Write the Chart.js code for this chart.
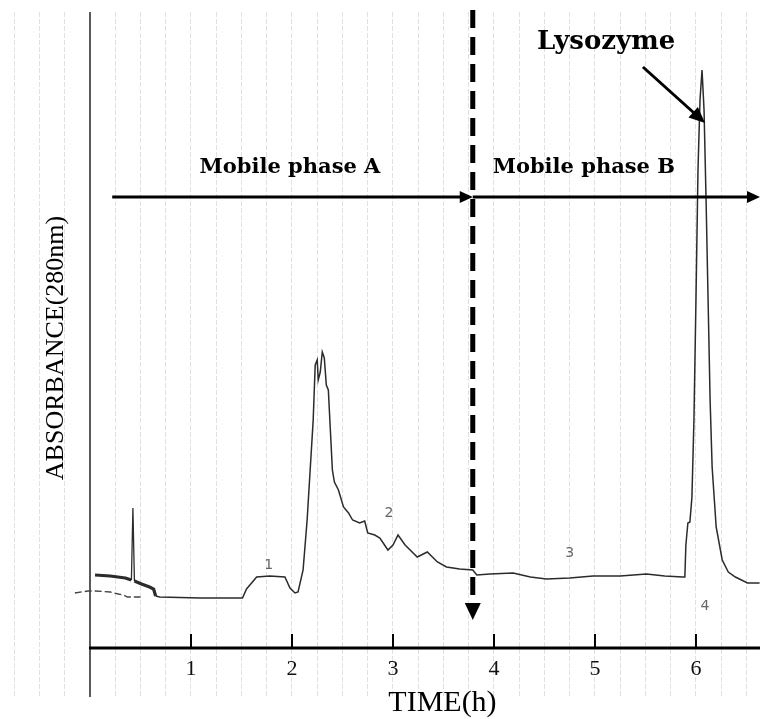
<!DOCTYPE html>
<html><head><meta charset="utf-8">
<script src="https://cdn.jsdelivr.net/npm/chart.js@4"></script>
<style>html,body{margin:0;padding:0;background:#fff}#wrap{width:760px;height:719px}</style>
</head><body><div id="wrap"><canvas id="c" width="760" height="719"></canvas></div>
<script>
// Chromatogram trace: time (h) and absorbance (arbitrary chart units, baseline ~50)
const traceTime = [0.05,0.20,0.35,0.41,0.425,0.44,0.51,0.59,0.63,0.65,0.69,1.09,1.51,1.55,1.60,1.65,1.78,1.93,1.98,2.03,2.06,2.11,2.15,2.18,2.21,2.23,2.25,2.26,2.28,2.30,2.32,2.34,2.36,2.38,2.40,2.42,2.46,2.51,2.56,2.60,2.67,2.72,2.75,2.82,2.87,2.95,3.00,3.05,3.12,3.24,3.34,3.44,3.53,3.66,3.79,3.83,3.96,4.19,4.36,4.52,4.75,4.98,5.25,5.51,5.69,5.87,5.89,5.90,5.92,5.94,5.96,5.98,6.00,6.02,6.04,6.06,6.08,6.10,6.12,6.14,6.16,6.20,6.26,6.32,6.39,6.51,6.63];
const traceAbs  = [73,72,70,68,140,67,64,61,59,52,51,50,50,59,65,71,72,71,60,55,56,78,128,178,228,283,288,268,276,296,290,263,258,218,178,166,158,141,135,128,125,127,115,113,110,98,103,113,103,91,96,86,81,79,78,73,74,75,71,69,70,72,72,74,72,71,71,103,125,126,151,228,348,478,548,578,538,448,348,248,181,121,88,76,71,65,65];
// Faint second pen trace at the start of the run
const lowTime = [-0.15,-0.02,0.05,0.20,0.28,0.33,0.37,0.50];
const lowAbs  = [55,57,57,56,54,53,51,51];
// Axis tick labels (h)
const tickLabels = ['1','2','3','4','5','6'];
// Mobile phase switch time (h)
const phaseSwitch = 3.79;
// Peak number notes written on the chart
const peakNotes = ['1','2','3','4'];
const peakNoteTime = [1.77,2.96,4.75,6.09];
const peakNoteAbs = [83,135,95,42];

const annot = {
  arrowAbs: 451, arrowStartA: 0.22,
  labelAbs: 480, labelA: 1.98, labelB: 4.89,
  lysoLabel: [5.11, 606], lysoArrowFrom: [5.475, 581], lysoArrowTo: [6.09, 525],
  dashTopAbs: 636, dashBottomAbs: 43, dashTipAbs: 28,
  xTitle: [3.49, -55], yTitle: [-0.33, 300]
};

function arrowHead(ctx, x1, y1, x2, y2, len, half) {
  const a = Math.atan2(y2 - y1, x2 - x1);
  ctx.beginPath();
  ctx.moveTo(x2, y2);
  ctx.lineTo(x2 - len*Math.cos(a) + half*Math.sin(a), y2 - len*Math.sin(a) - half*Math.cos(a));
  ctx.lineTo(x2 - len*Math.cos(a) - half*Math.sin(a), y2 - len*Math.sin(a) + half*Math.cos(a));
  ctx.closePath();
  ctx.fill();
}

const decor = {
  id: 'decor',
  afterDatasetsDraw(chart) {
    const ctx = chart.ctx, xs = chart.scales.x, ys = chart.scales.y, ca = chart.chartArea;
    const X = v => xs.getPixelForValue(v), Y = v => ys.getPixelForValue(v);
    ctx.save();
    ctx.fillStyle = '#000'; ctx.strokeStyle = '#000';
    // x axis line
    const y0 = Y(0);
    ctx.lineWidth = 3;
    ctx.beginPath(); ctx.moveTo(X(0) - 1, y0); ctx.lineTo(ca.right, y0); ctx.stroke();
    // integer tick marks (inside)
    ctx.lineWidth = 2;
    tickLabels.forEach(l => { const px = X(Number(l)); ctx.beginPath(); ctx.moveTo(px, y0); ctx.lineTo(px, y0 - 14); ctx.stroke(); });
    // phase arrows
    const ya = Y(annot.arrowAbs), xs0 = X(annot.arrowStartA), xm = X(phaseSwitch);
    ctx.lineWidth = 3;
    ctx.beginPath(); ctx.moveTo(xs0, ya); ctx.lineTo(xm - 6, ya); ctx.stroke();
    arrowHead(ctx, xs0, ya, xm, ya, 13, 6);
    ctx.beginPath(); ctx.moveTo(xm, ya); ctx.lineTo(ca.right - 6, ya); ctx.stroke();
    arrowHead(ctx, xm, ya, ca.right, ya, 13, 6);
    // vertical dashed switch line
    ctx.lineWidth = 5;
    ctx.setLineDash([18, 9]);
    ctx.beginPath(); ctx.moveTo(xm, Y(annot.dashTopAbs) - 2); ctx.lineTo(xm, Y(annot.dashBottomAbs)); ctx.stroke();
    ctx.setLineDash([]);
    arrowHead(ctx, xm, Y(annot.dashBottomAbs) - 5, xm, Y(annot.dashTipAbs), 17, 8);
    // lysozyme arrow
    ctx.lineWidth = 3;
    const ax1 = X(annot.lysoArrowFrom[0]), ay1 = Y(annot.lysoArrowFrom[1]);
    const ax2 = X(annot.lysoArrowTo[0]), ay2 = Y(annot.lysoArrowTo[1]);
    ctx.beginPath(); ctx.moveTo(ax1, ay1); ctx.lineTo(ax2 - 6, ay2 - 5.5); ctx.stroke();
    arrowHead(ctx, ax1, ay1, ax2, ay2, 16, 7);
    // texts
    ctx.textAlign = 'center'; ctx.textBaseline = 'middle';
    ctx.font = 'bold 21px "DejaVu Serif"';
    ctx.fillText('Mobile phase A', X(annot.labelA), Y(annot.labelAbs));
    ctx.fillText('Mobile phase B', X(annot.labelB), Y(annot.labelAbs));
    ctx.font = 'bold 26px "DejaVu Serif"';
    ctx.fillText('Lysozyme', X(annot.lysoLabel[0]), Y(annot.lysoLabel[1]));
    ctx.font = '30px "Liberation Serif"';
    ctx.fillText('TIME(h)', X(annot.xTitle[0]), Y(annot.xTitle[1]));
    ctx.save();
    ctx.translate(X(annot.yTitle[0]), Y(annot.yTitle[1]));
    ctx.rotate(-Math.PI/2);
    ctx.font = '26px "Liberation Serif"';
    ctx.fillText('ABSORBANCE(280nm)', 0, 0);
    ctx.restore();
    ctx.fillStyle = '#666';
    ctx.font = '14px "DejaVu Sans"';
    peakNotes.forEach((n, i) => ctx.fillText(n, X(peakNoteTime[i]), Y(peakNoteAbs[i])));
    ctx.restore();
  }
};

new Chart(document.getElementById('c'), {
  type: 'line',
  data: {
    datasets: [
      { data: traceTime.map((t, i) => ({x: t, y: traceAbs[i]})), borderColor: '#2b2b2b', borderWidth: 1.5,
        pointRadius: 0, tension: 0, fill: false,
        segment: { borderWidth: c => {
          const x0 = c.p0.parsed.x;
          if (x0 >= 0.40 && x0 < 0.44) return 1.3;
          return x0 < 0.64 ? 3.2 : 1.5;
        } } },
      { data: lowTime.map((t, i) => ({x: t, y: lowAbs[i]})), borderColor: '#444', borderWidth: 1.3,
        borderDash: [7, 3], pointRadius: 0, tension: 0, fill: false }
    ]
  },
  options: {
    responsive: false, devicePixelRatio: 1, animation: false,
    layout: { padding: { top: 12, bottom: 22, left: 0, right: 0 } },
    plugins: { legend: { display: false }, tooltip: { enabled: false } },
    scales: {
      x: {
        type: 'linear', min: -0.891, max: 6.634, position: { y: 0 },
        ticks: {
          stepSize: 0.25, includeBounds: false, autoSkip: false, maxRotation: 0, minRotation: 0,
          padding: 8, color: '#111', font: { family: 'Liberation Serif', size: 22 },
          callback: v => { const r = Math.round(v); return (Math.abs(v - r) < 1e-6 && tickLabels.includes(String(r))) ? String(r) : ''; }
        },
        grid: {
          drawTicks: false,
          color: c => (c.tick && Math.abs(c.tick.value) < 1e-6 ? '#5a5a5a' : 'rgba(160,160,160,0.32)'),
          lineWidth: c => (c.tick && Math.abs(c.tick.value) < 1e-6 ? 2 : 1)
        },
        border: { display: false, dash: c => (c.tick && Math.abs(c.tick.value) < 1e-6 ? [] : [5, 2]) }
      },
      y: { type: 'linear', min: -49, max: 636, display: false }
    }
  },
  plugins: [decor]
});
</script></body></html>
